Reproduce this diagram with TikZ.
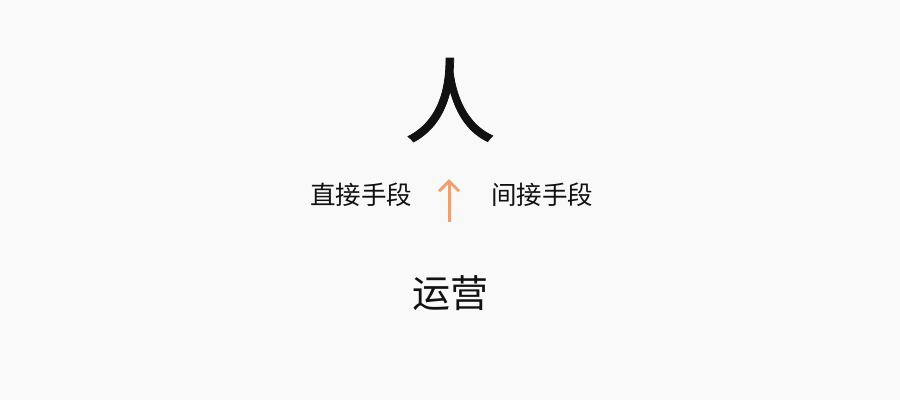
\documentclass[tikz,border=0pt]{standalone}
\usepackage{fontspec}
\newfontfamily\cjk{Noto Sans CJK SC}
\newfontfamily\cjkb[FakeBold=0.8]{Noto Sans CJK SC}
\usetikzlibrary{arrows.meta}
\definecolor{bg}{HTML}{FAF9F9}
\definecolor{arrowc}{HTML}{F0A070}
\definecolor{txt}{HTML}{111111}
\begin{document}
\begin{tikzpicture}[x=1bp,y=-1bp,
  lbl/.style={inner sep=0pt,text=txt,font=\cjk\fontsize{25.5bp}{30bp}\selectfont},
  big/.style={inner sep=0pt,text=txt,font=\cjkb\fontsize{92bp}{100bp}\selectfont},
  mid/.style={inner sep=0pt,text=txt,font=\cjk\fontsize{38bp}{44bp}\selectfont}]
\fill[bg] (0,0) rectangle (900,400);
\useasboundingbox (0,0) rectangle (900,400);
\node[big] (ren) at (450,100) {人};
\node[lbl] (direct) at (361,195) {直接手段};
\node[lbl] (indirect) at (542,195) {间接手段};
\node[mid] (yy) at (450,293) {运营};
\coordinate (abot) at (449,222);
\coordinate (atop) at (449,179);
\draw[arrowc,line width=3bp,-{Straight Barb[length=10bp,width=20bp,line width=3bp]}] (abot) -- (atop);
\end{tikzpicture}
\end{document}
